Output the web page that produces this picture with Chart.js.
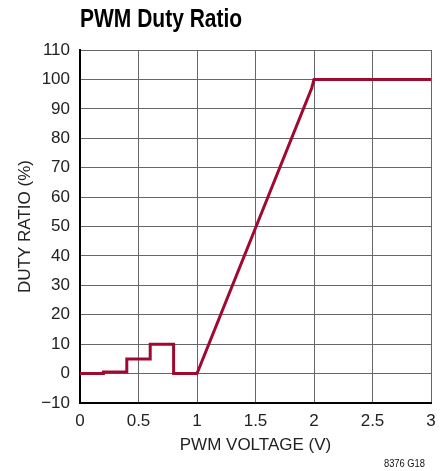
<!DOCTYPE html>
<html>
<head>
<meta charset="utf-8">
<script src="https://cdn.jsdelivr.net/npm/chart.js@4/dist/chart.umd.min.js"></script>
<style>
  html, body { margin: 0; padding: 0; background: #fff; }
  #wrap { width: 446px; height: 471px; position: relative; }
</style>
</head>
<body>
<div id="wrap"><canvas id="dutyChart" width="446" height="471"></canvas></div>
<script>
// values
const pwmVoltage = [0, 0.2, 0.2, 0.4, 0.4, 0.6, 0.6, 0.8, 0.8, 1.0, 1.98, 2.0, 3.0];
const dutyRatio  = [0, 0, 0.5, 0.5, 5, 5, 10, 10, 0, 0, 97, 100, 100];
const xTicks = [0, 0.5, 1, 1.5, 2, 2.5, 3];
const yTicks = [-10, 0, 10, 20, 30, 40, 50, 60, 70, 80, 90, 100, 110];

const FONT = '"Liberation Sans", Arial, sans-serif';

// title and figure number, squeezed a little to look like the condensed original
const extraText = {
    id: 'extraText',
    afterDraw(chart) {
        const ctx = chart.ctx;
        const area = chart.chartArea;
        ctx.save();
        ctx.fillStyle = '#000';
        ctx.font = 'bold 25px ' + FONT;
        ctx.textBaseline = 'middle';
        ctx.textAlign = 'left';
        ctx.translate(area.left, 20);
        ctx.scale(0.84, 1);
        ctx.fillText('PWM Duty Ratio', 0, 0);
        ctx.restore();
        ctx.save();
        ctx.fillStyle = '#111';
        ctx.font = '11px ' + FONT;
        ctx.textBaseline = 'middle';
        ctx.textAlign = 'right';
        ctx.translate(425, 464);
        ctx.scale(0.85, 1);
        ctx.fillText('8376 G18', 0, 0);
        ctx.restore();
    }
};

const points = pwmVoltage.map((v, i) => ({x: v, y: dutyRatio[i]}));

new Chart(document.getElementById('dutyChart').getContext('2d'), {
    type: 'scatter',
    data: {
        datasets: [{
            label: 'duty',
            data: points,
            showLine: true,
            borderColor: '#a00a30',
            borderWidth: 3,
            pointRadius: 0,
            tension: 0,
            borderJoinStyle: 'miter'
        }]
    },
    options: {
        responsive: false,
        animation: false,
        layout: { padding: { top: 50, right: 15, bottom: 0, left: 0 } },
        plugins: {
            legend: { display: false },
            tooltip: { enabled: false }
        },
        scales: {
            x: {
                type: 'linear',
                min: 0, max: 3,
                afterBuildTicks: s => { s.ticks = xTicks.map(v => ({value: v})); },
                afterFit: s => { s.height = 68; },
                grid: { color: '#666', lineWidth: 1, drawTicks: false },
                border: { color: '#000', width: 2 },
                ticks: {
                    color: '#222', padding: 8,
                    font: { family: FONT, size: 17 },
                    maxRotation: 0,
                    callback: v => String(v)
                },
                title: {
                    display: true, text: 'PWM VOLTAGE (V)', color: '#222',
                    font: { family: FONT, size: 17 },
                    padding: { top: 0, bottom: 15 }
                }
            },
            y: {
                type: 'linear',
                min: -10, max: 110,
                afterBuildTicks: s => { s.ticks = yTicks.map(v => ({value: v})); },
                afterFit: s => { s.width = 80; },
                grid: { color: '#666', lineWidth: 1, drawTicks: false },
                border: { color: '#000', width: 2 },
                ticks: {
                    color: '#222', padding: 10,
                    font: { family: FONT, size: 17 },
                    callback: v => v < 0 ? '\u2212' + Math.abs(v) : String(v)
                },
                title: {
                    display: true, text: 'DUTY RATIO (%)', color: '#222',
                    font: { family: FONT, size: 17 },
                    padding: { top: 15, bottom: 0 }
                }
            }
        }
    },
    plugins: [extraText]
});
</script>
</body>
</html>
